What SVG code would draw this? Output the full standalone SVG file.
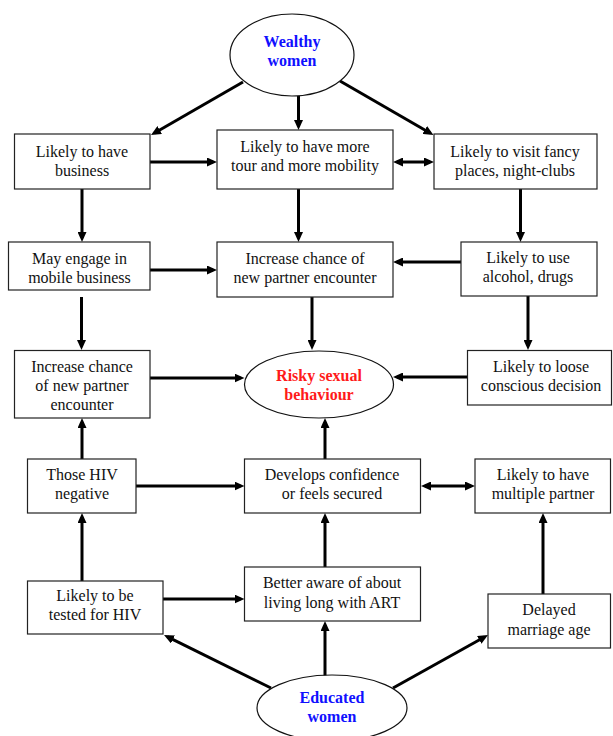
<svg xmlns="http://www.w3.org/2000/svg" width="613" height="736" viewBox="0 0 613 736">
<style>
.box{fill:#fff;stroke:#222;stroke-width:1.2}
.ell{fill:#fff;stroke:#111;stroke-width:1.2}
text{font-family:'Liberation Serif','DejaVu Serif',serif;font-size:16px;text-anchor:middle}
.t{fill:#111}
.b{font-weight:bold}
.blue{fill:#1010ff}
.red{fill:#ff1a1a}
#connectors line{stroke:#000;stroke-width:3;marker-end:url(#ah)}
#connectors line.dbl{marker-start:url(#ah)}
</style>
<defs>
<marker id="ah" markerUnits="userSpaceOnUse" markerWidth="10" markerHeight="9" refX="6" refY="4.5" orient="auto-start-reverse">
<path d="M0,0 L10,4.5 L0,9 z" fill="#000"/>
</marker>
</defs>
<rect width="613" height="736" fill="#fff"/>

<g id="connectors">
<line x1="243" y1="82" x2="154.5" y2="133"/>
<line x1="298.5" y1="96" x2="298.5" y2="126"/>
<line x1="340" y1="81" x2="430" y2="133"/>
<line x1="150" y1="162" x2="213" y2="162"/>
<line class="dbl" x1="397" y1="162" x2="430" y2="162"/>
<line x1="82" y1="189" x2="82" y2="238"/>
<line x1="298.5" y1="189" x2="298.5" y2="238"/>
<line x1="520.5" y1="189" x2="520.5" y2="238"/>
<line x1="150" y1="270" x2="213" y2="270"/>
<line x1="461" y1="262" x2="397" y2="262"/>
<line x1="81.5" y1="297" x2="81.5" y2="346"/>
<line x1="312" y1="297" x2="312" y2="346"/>
<line x1="528" y1="296" x2="528" y2="346"/>
<line x1="150" y1="378" x2="240.5" y2="378"/>
<line x1="468" y1="377" x2="397" y2="377"/>
<line x1="82" y1="459" x2="82" y2="422"/>
<line x1="325" y1="459" x2="325" y2="422"/>
<line x1="136" y1="486" x2="240.5" y2="486"/>
<line class="dbl" x1="425" y1="486" x2="471" y2="486"/>
<line x1="82" y1="581" x2="82" y2="517"/>
<line x1="325" y1="567" x2="325" y2="517"/>
<line x1="543" y1="594" x2="543" y2="517"/>
<line x1="163" y1="599" x2="240.5" y2="599"/>
<line x1="271" y1="688" x2="167.6" y2="636.8"/>
<line x1="325" y1="676" x2="325" y2="625"/>
<line x1="393" y1="688" x2="484.5" y2="637"/>
</g>

<g id="wealthy">
<ellipse class="ell" cx="292" cy="55" rx="62" ry="41"/>
<text class="b blue" x="292" y="47">Wealthy</text>
<text class="b blue" x="292" y="66">women</text>
</g>

<g id="business">
<rect class="box" x="14.5" y="134" width="135.5" height="55"/>
<text class="t" x="82" y="157">Likely to have</text>
<text class="t" x="82" y="176">business</text>
</g>

<g id="tour">
<rect class="box" x="217" y="130" width="176" height="59"/>
<text class="t" x="305" y="152">Likely to have more</text>
<text class="t" x="305" y="171">tour and more mobility</text>
</g>

<g id="fancy">
<rect class="box" x="434" y="134" width="163" height="55"/>
<text class="t" x="515" y="157">Likely to visit fancy</text>
<text class="t" x="515" y="176">places, night-clubs</text>
</g>

<g id="mobile">
<rect class="box" x="8.5" y="242" width="141.5" height="48"/>
<text class="t" x="79.5" y="264">May engage in</text>
<text class="t" x="79.5" y="283">mobile business</text>
</g>

<g id="encounter1">
<rect class="box" x="217" y="242" width="176" height="55"/>
<text class="t" x="305" y="264">Increase chance of</text>
<text class="t" x="305" y="283">new partner encounter</text>
</g>

<g id="alcohol">
<rect class="box" x="461" y="242" width="136" height="54"/>
<text class="t" x="528" y="263">Likely to use</text>
<text class="t" x="528" y="282">alcohol, drugs</text>
</g>

<g id="encounter2">
<rect class="box" x="14.5" y="350.5" width="135.5" height="67.5"/>
<text class="t" x="82" y="372">Increase chance</text>
<text class="t" x="82" y="391">of new partner</text>
<text class="t" x="82" y="410">encounter</text>
</g>

<g id="risky">
<ellipse class="ell" cx="319" cy="384.5" rx="74.5" ry="33.5"/>
<text class="b red" x="319" y="381">Risky sexual</text>
<text class="b red" x="319" y="400">behaviour</text>
</g>

<g id="loose">
<rect class="box" x="467.5" y="350.5" width="144" height="54.5"/>
<text class="t" x="541" y="372">Likely to loose</text>
<text class="t" x="541" y="391">conscious decision</text>
</g>

<g id="hivneg">
<rect class="box" x="27.5" y="459" width="108.5" height="54"/>
<text class="t" x="82" y="479.5">Those HIV</text>
<text class="t" x="82" y="498.5">negative</text>
</g>

<g id="confidence">
<rect class="box" x="244.5" y="459" width="176" height="54"/>
<text class="t" x="332" y="479.5">Develops confidence</text>
<text class="t" x="332" y="498.5">or feels secured</text>
</g>

<g id="multiple">
<rect class="box" x="475" y="459" width="135.5" height="54"/>
<text class="t" x="543" y="479.5">Likely to have</text>
<text class="t" x="543" y="498.5">multiple partner</text>
</g>

<g id="tested">
<rect class="box" x="27.5" y="581" width="135.5" height="53"/>
<text class="t" x="95" y="601">Likely to be</text>
<text class="t" x="95" y="620">tested for HIV</text>
</g>

<g id="aware">
<rect class="box" x="244.5" y="567" width="176" height="54"/>
<text class="t" x="332" y="588">Better aware of about</text>
<text class="t" x="332" y="608">living long with ART</text>
</g>

<g id="delayed">
<rect class="box" x="488" y="594" width="122.5" height="54"/>
<text class="t" x="549" y="615">Delayed</text>
<text class="t" x="549" y="635">marriage age</text>
</g>

<g id="educated">
<ellipse class="ell" cx="332" cy="708" rx="75" ry="33"/>
<text class="b blue" x="332" y="703">Educated</text>
<text class="b blue" x="332" y="722">women</text>
</g>
</svg>
